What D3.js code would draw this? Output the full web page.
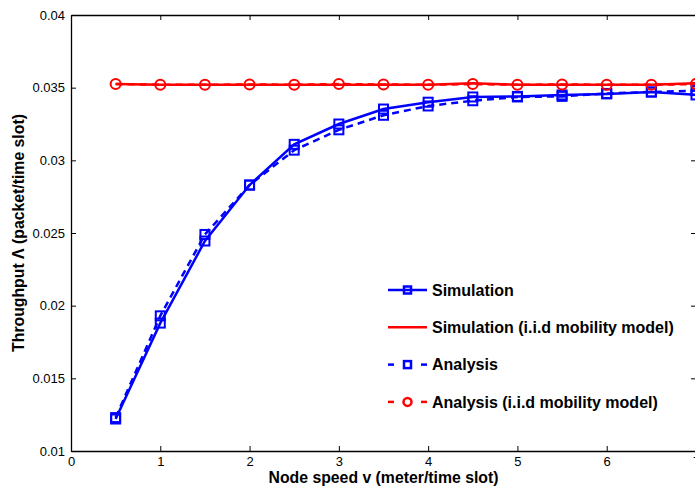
<!DOCTYPE html>
<html>
<head>
<meta charset="utf-8">
<script src="https://cdn.jsdelivr.net/npm/d3@7"></script>
<style>
  body { margin: 0; background: #fff; }
  text { font-family: "Liberation Sans", Arial, sans-serif; }
</style>
</head>
<body>
<div id="chart"></div>
<script>
// data
var speeds = [0.5, 1, 1.5, 2, 2.5, 3, 3.5, 4, 4.5, 5, 5.5, 6, 6.5, 7];
var simulation = [0.0122, 0.0188, 0.02445, 0.0283, 0.0311, 0.0325, 0.03353, 0.0340, 0.03436, 0.0344, 0.0345, 0.03457, 0.0347, 0.0345];
var analysis = [0.0123, 0.0193, 0.0249, 0.0283, 0.0307, 0.0321, 0.0331, 0.03374, 0.0341, 0.03436, 0.0344, 0.0346, 0.0347, 0.0348];
var simIid = [0.03525, 0.0352, 0.0352, 0.0352, 0.0352, 0.0352, 0.0352, 0.0352, 0.0353, 0.0352, 0.0352, 0.0352, 0.0352, 0.0353];
var anIid = [0.03525, 0.0352, 0.0352, 0.03522, 0.0352, 0.03525, 0.03522, 0.0352, 0.03525, 0.0352, 0.03522, 0.0352, 0.0352, 0.03525];
var xTicks = [0, 1, 2, 3, 4, 5, 6, 7];
var yTicks = [0.01, 0.015, 0.02, 0.025, 0.03, 0.035, 0.04];

var W = 695, H = 487;
var margin = {top: 15, right: -1, bottom: 36, left: 71};

var svg = d3.select("#chart").append("svg")
    .attr("width", W)
    .attr("height", H);

var x = d3.scaleLinear().domain([0, 7]).range([margin.left, W - margin.right]);
var y = d3.scaleLinear().domain([0.01, 0.04]).range([H - margin.bottom, margin.top]);

// axes, matlab style box with inward ticks
var fmtY = function(d) { return String(+d.toFixed(3)); };
var fmtX = function(d) { return String(d); };
svg.append("g")
    .attr("transform", "translate(0," + y(0.01) + ")")
    .call(d3.axisBottom(x).tickValues(xTicks).tickSizeInner(-5).tickSizeOuter(0).tickPadding(6).tickFormat(fmtX))
    .call(function(g) { g.select(".domain").attr("stroke-width", 1.3); });
svg.append("g")
    .attr("transform", "translate(0," + y(0.04) + ")")
    .call(d3.axisTop(x).tickValues(xTicks).tickSizeInner(-5).tickSizeOuter(0).tickFormat(""))
    .call(function(g) { g.select(".domain").attr("stroke-width", 1.3); });
svg.append("g")
    .attr("transform", "translate(" + x(0) + ",0)")
    .call(d3.axisLeft(y).tickValues(yTicks).tickSizeInner(-5).tickSizeOuter(0).tickPadding(6).tickFormat(fmtY))
    .call(function(g) { g.select(".domain").attr("stroke-width", 1.3); });
svg.append("g")
    .attr("transform", "translate(" + x(7) + ",0)")
    .call(d3.axisRight(y).tickValues(yTicks).tickSizeInner(-5).tickSizeOuter(0).tickFormat(""))
    .call(function(g) { g.select(".domain").attr("stroke-width", 1.3); });

svg.selectAll(".tick text")
    .attr("font-size", 13)
    .attr("font-family", "Liberation Sans, Arial, sans-serif")
    .attr("fill", "#000");

// series
var series = [
  {name: "Simulation", values: simulation, color: "#0000ff", dash: null, marker: "square"},
  {name: "Simulation (i.i.d mobility model)", values: simIid, color: "#ff0000", dash: null, marker: "none"},
  {name: "Analysis", values: analysis, color: "#0000ff", dash: "7,5", marker: "square"},
  {name: "Analysis (i.i.d mobility model)", values: anIid, color: "#ff0000", dash: "7,5", marker: "circle"}
];

var line = d3.line()
    .x(function(d) { return x(d[0]); })
    .y(function(d) { return y(d[1]); });

var plot = svg.append("g");

series.forEach(function(s) {
  var pts = speeds.map(function(v, i) { return [v, s.values[i]]; });
  plot.append("path")
      .datum(pts)
      .attr("fill", "none")
      .attr("stroke", s.color)
      .attr("stroke-width", 2.5)
      .attr("stroke-dasharray", s.dash)
      .attr("d", line);
  drawMarkers(plot, pts, s);
});

function drawMarkers(g, pts, s) {
  if (s.marker == "square") {
    g.selectAll(null)
        .data(pts)
      .enter().append("rect")
        .attr("x", function(d) { return x(d[0]) - 4.5; })
        .attr("y", function(d) { return y(d[1]) - 4.5; })
        .attr("width", 9)
        .attr("height", 9)
        .attr("fill", "none")
        .attr("stroke", s.color)
        .attr("stroke-width", 2);
  } else if (s.marker == "circle") {
    g.selectAll(null)
        .data(pts)
      .enter().append("circle")
        .attr("cx", function(d) { return x(d[0]); })
        .attr("cy", function(d) { return y(d[1]); })
        .attr("r", 5)
        .attr("fill", "none")
        .attr("stroke", s.color)
        .attr("stroke-width", 2);
  }
}

// legend
var legend = svg.append("g")
    .attr("transform", "translate(388,290)");

var item = legend.selectAll("g")
    .data(series)
  .enter().append("g")
    .attr("transform", function(d, i) { return "translate(0," + i * 37.3 + ")"; });

item.each(function(d) {
  var g = d3.select(this);
  var segs = d.dash ? [[0, 6], [33, 39]] : [[0, 39]];
  segs.forEach(function(sg) {
    g.append("line")
        .attr("x1", sg[0]).attr("x2", sg[1])
        .attr("y1", 0).attr("y2", 0)
        .attr("stroke", d.color)
        .attr("stroke-width", 2.5);
  });
  if (d.marker == "square") {
    g.append("rect").attr("x", 16).attr("y", -3.5).attr("width", 7).attr("height", 7)
        .attr("fill", "none").attr("stroke", d.color).attr("stroke-width", 2.5);
  } else if (d.marker == "circle") {
    g.append("circle").attr("cx", 19.5).attr("cy", 0).attr("r", 4)
        .attr("fill", "none").attr("stroke", d.color).attr("stroke-width", 2.5);
  }
});

item.append("text")
    .attr("x", 44)
    .attr("y", 0)
    .attr("dy", "0.35em")
    .attr("font-size", 16)
    .attr("font-weight", "bold")
    .text(function(d) { return d.name; });

// axis titles
svg.append("text")
    .attr("x", (x(0) + x(7)) / 2)
    .attr("y", 483)
    .attr("text-anchor", "middle")
    .attr("font-size", 15.8)
    .attr("font-weight", "bold")
    .text("Node speed v (meter/time slot)");

svg.append("text")
    .attr("transform", "translate(24," + (y(0.025)) + ") rotate(-90)")
    .attr("text-anchor", "middle")
    .attr("font-size", 15.8)
    .attr("font-weight", "bold")
    .text("Throughput \u039B (packet/time slot)");
</script>
</body>
</html>
